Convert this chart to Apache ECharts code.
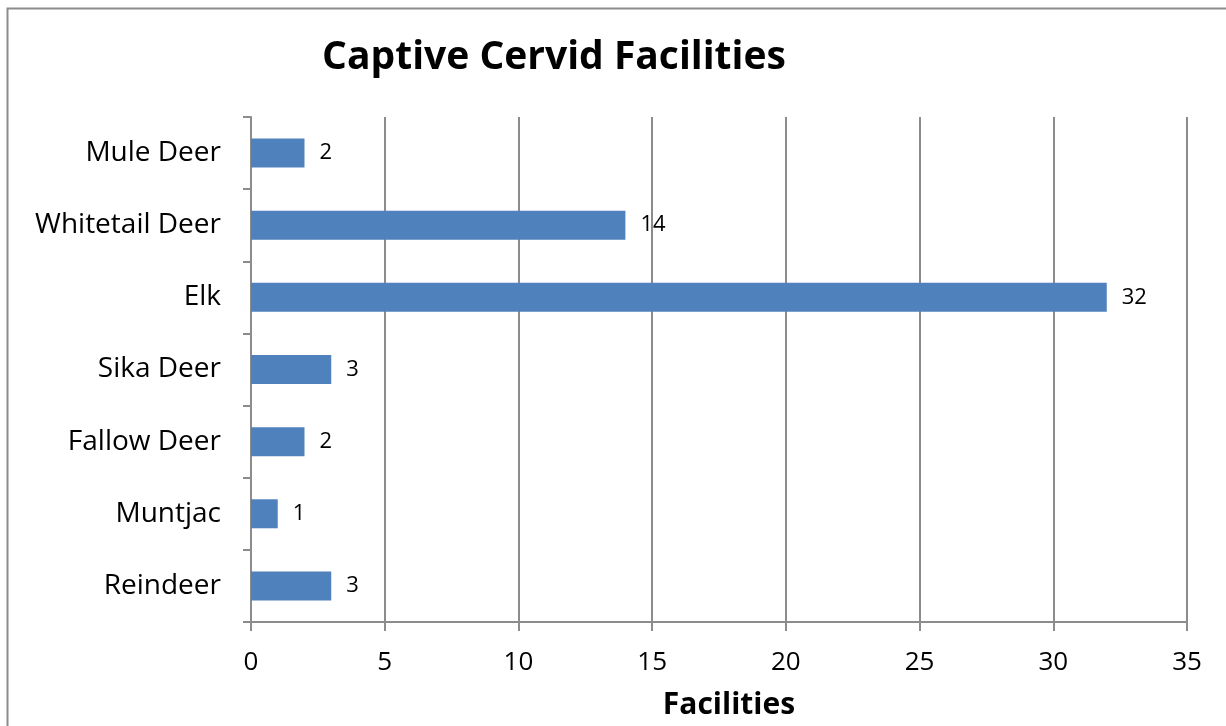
<!DOCTYPE html>
<html>
<head>
<meta charset="utf-8">
<script src="https://cdn.jsdelivr.net/npm/echarts@6/dist/echarts.min.js"></script>
<style>
  html, body { margin: 0; padding: 0; background: #fff; }
  #chart { width: 1226px; height: 726px; }
</style>
</head>
<body>
<div id="chart"></div>
<script>
// 数据
const categories = ['Reindeer', 'Muntjac', 'Fallow Deer', 'Sika Deer', 'Elk', 'Whitetail Deer', 'Mule Deer'];
const facilities = [3, 1, 2, 3, 32, 14, 2];
const xTicks = [0, 35, 5];   // min, max, interval

const chart = echarts.init(document.getElementById('chart'));
const font = 'Open Sans, Noto Sans, sans-serif';

const option = {
  animation: false,
  title: {
    text: 'Captive Cervid Facilities',
    left: 549,
    top: 33,
    textAlign: 'center',
    textStyle: { fontFamily: font, fontSize: 39, fontWeight: 'bold', color: '#000' }
  },
  graphic: [{
    type: 'rect',
    shape: { x: 7.5, y: 8.5, width: 1240, height: 740 },
    style: { fill: 'none', stroke: '#8c8c8c', lineWidth: 2 }
  }],
  grid: { left: 251, right: 39, top: 117, bottom: 104 },
  xAxis: {
    type: 'value',
    min: xTicks[0],
    max: xTicks[1],
    interval: xTicks[2],
    name: 'Facilities',
    nameLocation: 'middle',
    nameGap: 68,
    nameTextStyle: { fontFamily: font, fontSize: 30, fontWeight: 'bold', color: '#000', padding: [0, 0, 0, 20] },
    axisLine: { show: true, lineStyle: { color: '#8c8c8c', width: 2 } },
    axisTick: { show: true, length: 9, lineStyle: { color: '#8c8c8c', width: 2 } },
    axisLabel: { fontFamily: font, fontSize: 26, color: '#000', margin: 28 },
    splitLine: { show: true, lineStyle: { color: '#8c8c8c', width: 2 } }
  },
  yAxis: {
    type: 'category',
    data: categories,
    axisLine: { show: true, lineStyle: { color: '#8c8c8c', width: 2 } },
    axisTick: { show: true, length: 8, lineStyle: { color: '#8c8c8c', width: 2 } },
    axisLabel: { fontFamily: font, fontSize: 28, color: '#000', margin: 30, padding: [4, 0, 0, 0] }
  },
  series: [{
    type: 'bar',
    data: facilities,
    barWidth: 29,
    itemStyle: { color: '#4F81BD' },
    label: {
      show: true,
      position: 'right',
      distance: 15,
      fontFamily: font,
      fontSize: 22,
      color: '#000'
    }
  }]
};

chart.setOption(option);
</script>
</body>
</html>
